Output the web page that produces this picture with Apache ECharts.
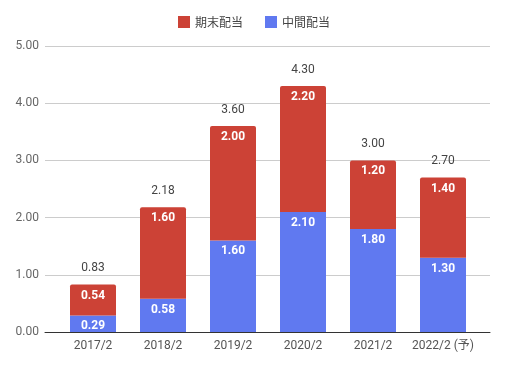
<!DOCTYPE html>
<html><head><meta charset="utf-8">
<script src="https://cdn.jsdelivr.net/npm/echarts@6/dist/echarts.min.js"></script>
<style>html,body{margin:0;padding:0;background:#fff}#c{width:508px;height:367px}</style>
</head><body><div id="c"></div>
<script>
const categories = ['2017/2','2018/2','2019/2','2020/2','2021/2','2022/2 (予)'];
const interim = [0.29, 0.58, 1.60, 2.10, 1.80, 1.30];   // 中間配当
const yearEnd = [0.54, 1.60, 2.00, 2.20, 1.20, 1.40];   // 期末配当
const totals  = [0.83, 2.18, 3.60, 4.30, 3.00, 2.70];
const yTicks  = [0, 1, 2, 3, 4, 5];

const FONT = 'Roboto, "Noto Sans CJK JP", Arial, sans-serif';
const chart = echarts.init(document.getElementById('c'), null, {renderer:'canvas'});
chart.setOption({
  animation: false,
  textStyle: {fontFamily: FONT},
  legend: {
    data: ['期末配当','中間配当'], top: 11, left: 'center',
    icon: 'rect', itemWidth: 12, itemHeight: 12, itemGap: 22,
    textStyle: {color: '#444', fontSize: 12, fontFamily: '"Noto Sans CJK JP", Roboto, sans-serif'}
  },
  grid: [
    {left: 45, right: 18, top: 46, bottom: 35},
    {left: 58, right: 30, top: 46, bottom: 35}
  ],
  xAxis: [
    {gridIndex: 0, type: 'value', min: 0, max: 1, axisLabel: {show: false}, axisTick: {show: false},
     splitLine: {show: false}, axisLine: {show: true, lineStyle: {color: '#333', width: 1}}, z: 5},
    {gridIndex: 1, type: 'category', data: categories, axisLine: {show: false}, axisTick: {show: false},
     axisLabel: {color: '#555', fontSize: 12, margin: 8, interval: 0}}
  ],
  yAxis: [
    {gridIndex: 0, type: 'value', min: yTicks[0], max: yTicks[yTicks.length-1], interval: 1,
     axisLine: {show: false}, axisTick: {show: false},
     axisLabel: {color: '#666', fontSize: 12, margin: 6, formatter: v => v.toFixed(2)},
     splitLine: {lineStyle: {color: '#ccc', width: 1}}},
    {gridIndex: 1, type: 'value', min: 0, max: 5, show: false}
  ],
  series: [
    {name: '中間配当', type: 'bar', xAxisIndex: 1, yAxisIndex: 1, stack: 's', barWidth: 46,
     data: interim, itemStyle: {color: '#6079f0'},
     label: {show: true, position: 'insideTop', distance: 5, color: '#fff', fontSize: 12, fontWeight: 'bold',
             formatter: p => p.value.toFixed(2)}},
    {name: '期末配当', type: 'bar', xAxisIndex: 1, yAxisIndex: 1, stack: 's', barWidth: 46,
     data: yearEnd, itemStyle: {color: '#cc4236', borderRadius: [2,2,0,0]},
     label: {show: true, position: 'insideTop', distance: 5, color: '#fff', fontSize: 12, fontWeight: 'bold',
             formatter: p => p.value.toFixed(2)}},
    {name: '合計', type: 'line', xAxisIndex: 1, yAxisIndex: 1, data: totals,
     symbol: 'circle', symbolSize: 1, showSymbol: true, silent: true,
     lineStyle: {width: 0, color: 'rgba(0,0,0,0)'}, itemStyle: {color: 'rgba(0,0,0,0)', borderWidth: 0},
     label: {show: true, position: 'top', distance: 10, color: '#444', fontSize: 12,
             formatter: p => p.value.toFixed(2)}, z: 10}
  ]
});
</script></body></html>
